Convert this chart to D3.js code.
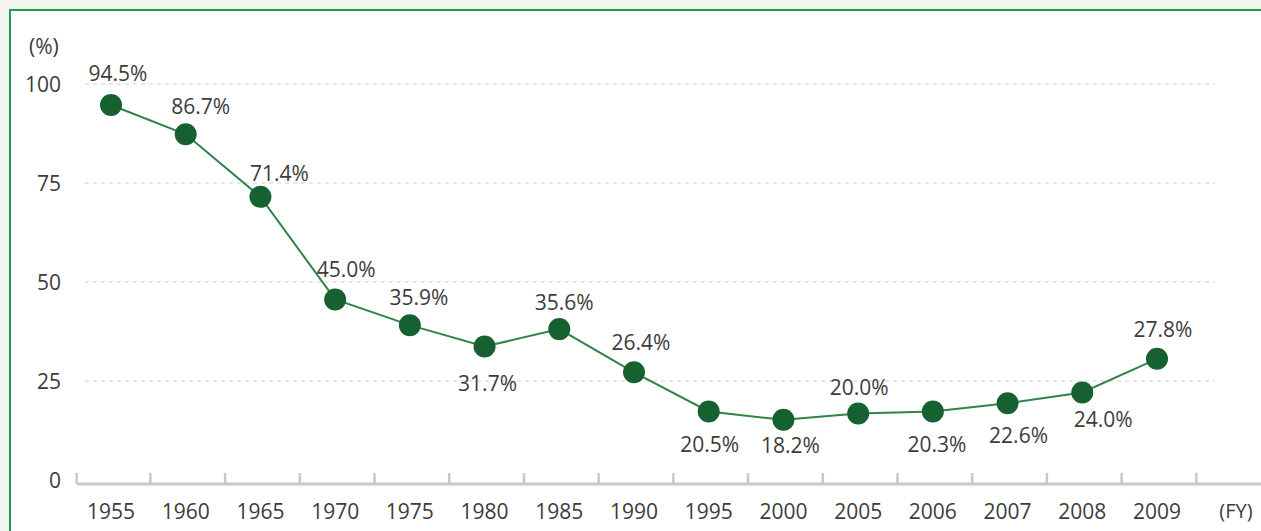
<!DOCTYPE html>
<html>
<head>
<meta charset="utf-8">
<script src="https://cdn.jsdelivr.net/npm/d3@7"></script>
<style>
  html, body { margin: 0; padding: 0; background: #f4f5ef; overflow: hidden; }
  svg { display: block; overflow: hidden; }
  text { font-family: "Open Sans", "Noto Sans", sans-serif; fill: #3c3c3c; }
</style>
</head>
<body>
<div id="chart"></div>
<script>
// Categorías (año fiscal)
const years = ['1955', '1960', '1965', '1970', '1975', '1980', '1985', '1990',
               '1995', '2000', '2005', '2006', '2007', '2008', '2009'];
// Valores tal como están dibujados en el gráfico (%)
const values = [94.7, 87.3, 71.5, 45.6, 39.1, 33.7, 38.1, 27.2,
                17.3, 15.2, 16.8, 17.3, 19.4, 22.1, 30.6];
// Etiquetas de texto
const labels = ['94.5%', '86.7%', '71.4%', '45.0%', '35.9%', '31.7%', '35.6%', '26.4%',
                '20.5%', '18.2%', '20.0%', '20.3%', '22.6%', '24.0%', '27.8%'];
const yTicks = [0, 25, 50, 75, 100];

// Posición de las etiquetas respecto al punto (px)
const labelOffsets = [
  [7, -32], [15, -28], [19, -23], [11, -30], [9, -28], [3, 37], [5, -27], [7, -30],
  [1, 33], [7, 26], [1, -26], [4, 33], [11, 32], [21, 27], [6, -29]
];

const W = 1261, H = 531;

const svg = d3.select('#chart').append('svg')
    .attr('width', W).attr('height', H);

// Panel blanco con borde verde arriba y a la izquierda
svg.append('rect')
    .attr('x', 10).attr('y', 10)
    .attr('width', W - 10).attr('height', H - 10)
    .attr('fill', '#fff');
svg.append('path')
    .attr('d', `M10,${H} V10 H${W}`)
    .attr('fill', 'none')
    .attr('stroke', '#219a52').attr('stroke-width', 2);

// Escalas
const x = d3.scalePoint().domain(years).range([111, 1157]);
const y = d3.scaleLinear().domain([0, 100]).range([480, 84]);
const step = x.step();

// Rejilla
svg.selectAll('.grid')
    .data(yTicks.filter(d => d > 0))
    .join('line')
    .attr('x1', 85).attr('x2', 1215)
    .attr('y1', d => y(d)).attr('y2', d => y(d))
    .attr('stroke', '#cfcfcf').attr('stroke-width', 1)
    .attr('stroke-dasharray', '4,4');

// Etiquetas eje Y
svg.selectAll('.ylab')
    .data(yTicks)
    .join('text')
    .attr('x', 61).attr('y', d => y(d))
    .attr('dy', '0.36em')
    .attr('text-anchor', 'end')
    .attr('font-size', '21px')
    .text(d => d);

svg.append('text')
    .attr('x', 29).attr('y', 54)
    .attr('font-size', '21px')
    .text('(%)');

// Eje X
const axisY = y(0) + 4;
svg.append('line')
    .attr('x1', 77).attr('x2', W)
    .attr('y1', axisY).attr('y2', axisY)
    .attr('stroke', '#c8c8c8').attr('stroke-width', 3);

const tickXs = [x(years[0]) - step / 2 + 3].concat(years.map(d => x(d) + step / 2 + 2));
svg.selectAll('.xtick')
    .data(tickXs)
    .join('line')
    .attr('x1', d => d).attr('x2', d => d)
    .attr('y1', axisY).attr('y2', axisY - 11)
    .attr('stroke', '#c8c8c8').attr('stroke-width', 2.5);

svg.selectAll('.xlab')
    .data(years)
    .join('text')
    .attr('x', d => x(d)).attr('y', 511)
    .attr('dy', '0.36em')
    .attr('text-anchor', 'middle')
    .attr('font-size', '21px')
    .text(d => d);

svg.append('text')
    .attr('x', 1236).attr('y', 511)
    .attr('dy', '0.36em')
    .attr('text-anchor', 'middle')
    .attr('font-size', '20px')
    .text('(FY)');

// Línea
const line = d3.line()
    .x((d, i) => x(years[i]))
    .y(d => y(d));

svg.append('path')
    .datum(values)
    .attr('fill', 'none')
    .attr('stroke', '#2f8449')
    .attr('stroke-width', 2)
    .attr('d', line);

// Puntos
svg.selectAll('.dot')
    .data(values)
    .join('circle')
    .attr('cx', (d, i) => x(years[i]))
    .attr('cy', d => y(d))
    .attr('r', 11)
    .attr('fill', '#17602f');

// Etiquetas de valores
svg.selectAll('.vlab')
    .data(values)
    .join('text')
    .attr('x', (d, i) => x(years[i]) + labelOffsets[i][0])
    .attr('y', (d, i) => y(d) + labelOffsets[i][1])
    .attr('dy', '0.36em')
    .attr('text-anchor', 'middle')
    .attr('font-size', '21px')
    .text((d, i) => labels[i]);
</script>
</body>
</html>
